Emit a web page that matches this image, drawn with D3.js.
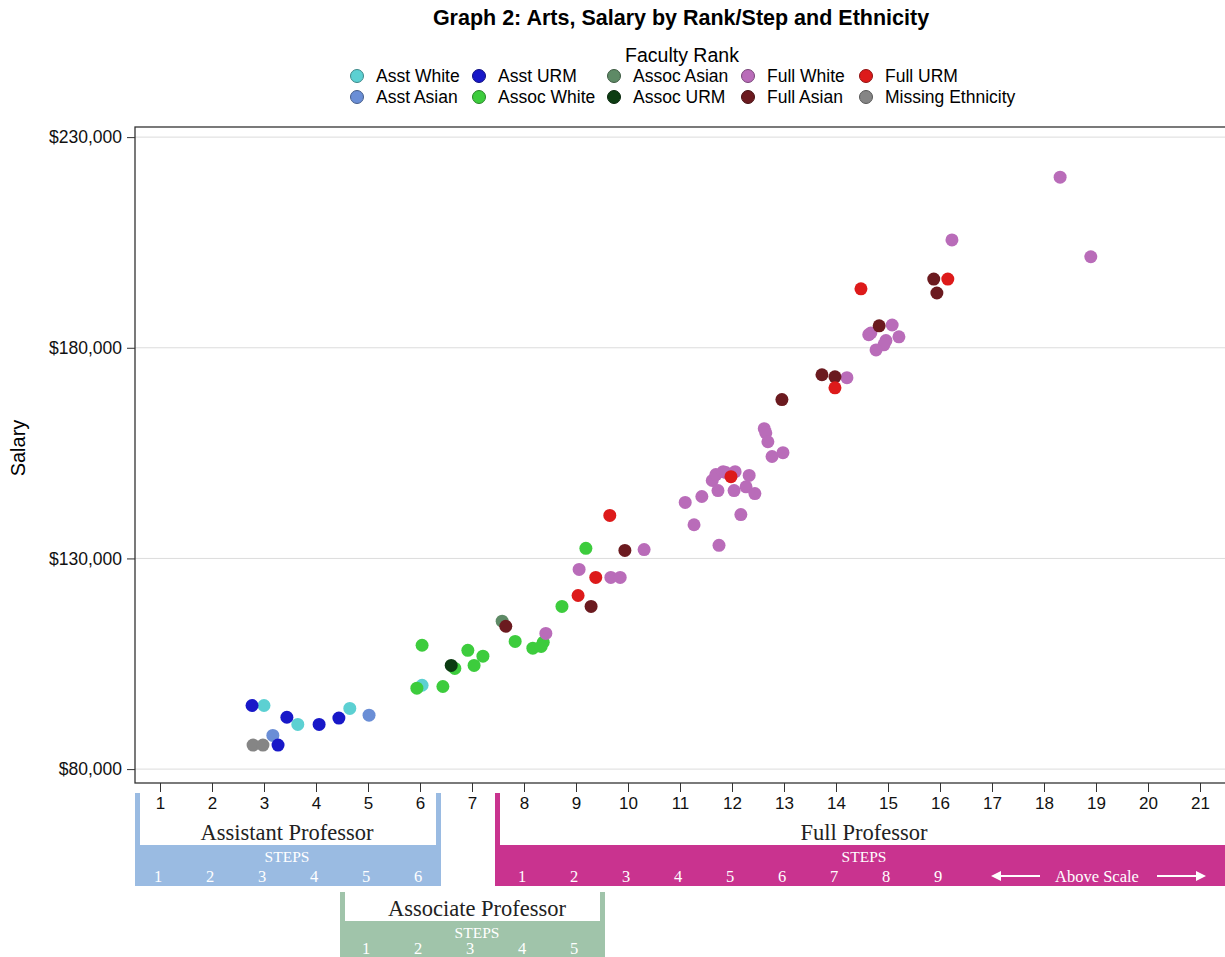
<!DOCTYPE html>
<html>
<head>
<meta charset="utf-8">
<script src="https://cdn.jsdelivr.net/npm/d3@7"></script>
<style>
  body { margin: 0; background: #fff; }
  svg { display: block; font-family: "Liberation Sans", Arial, sans-serif; }
</style>
</head>
<body>
<svg id="chart" width="1225" height="957"></svg>
<script>
// data: [step, salary] pairs per group
const asstWhite = [[3.0, 95100], [3.65, 90600], [4.65, 94400], [6.04, 99900]];
const asstAsian = [[3.17, 88000], [5.02, 92800]];
const asstURM = [[2.77, 95100], [3.44, 92300], [4.06, 90600], [4.44, 92100], [3.27, 85700]];
const missingEth = [[2.79, 85700], [2.98, 85700]];
const assocWhite = [[6.04, 109400], [6.92, 108200], [7.21, 106800], [7.04, 104600], [6.67, 103900],
  [5.94, 99200], [6.44, 99600], [7.83, 110300], [8.17, 108700], [8.37, 110100], [8.33, 109100],
  [8.73, 118600], [9.19, 132400]];
const assocAsian = [[7.58, 115100]];
const assocURM = [[6.6, 104600]];
const fullWhite = [[8.42, 112200], [9.06, 127400], [9.67, 125500], [9.85, 125500], [10.31, 132100],
  [11.1, 143300], [11.27, 138000], [11.42, 144700], [11.75, 133100], [12.17, 140400],
  [11.62, 148500], [11.69, 149900], [11.83, 150600], [11.88, 150400], [12.06, 150600], [12.33, 149700],
  [11.73, 146100], [12.04, 146100], [12.27, 147000], [12.44, 145400],
  [12.62, 160800], [12.65, 159800], [12.69, 157700], [12.77, 154200], [12.98, 155100],
  [14.21, 172900], [15.08, 185400], [14.63, 183100], [14.67, 183500], [15.21, 182600],
  [14.96, 181700], [14.92, 180700], [14.77, 179500],
  [16.23, 205600], [18.31, 220500], [18.9, 201600]];
const fullAsian = [[7.65, 113900], [9.29, 118600], [9.94, 131900], [12.96, 167700], [13.73, 173600],
  [13.98, 173100], [14.83, 185200], [15.88, 196300], [15.94, 193000]];
const fullURM = [[9.65, 140200], [9.38, 125500], [9.04, 121200], [11.98, 149400], [13.98, 170500],
  [14.48, 194000], [16.15, 196300]];

const groups = [
  { name: "Asst White", pts: asstWhite, color: "#5cd0d2" },
  { name: "Asst Asian", pts: asstAsian, color: "#6a8ed6" },
  { name: "Asst URM", pts: asstURM, color: "#1818c8" },
  { name: "Missing Ethnicity", pts: missingEth, color: "#858585" },
  { name: "Assoc White", pts: assocWhite, color: "#3dcc3d" },
  { name: "Assoc Asian", pts: assocAsian, color: "#5e8a66" },
  { name: "Assoc URM", pts: assocURM, color: "#0c3c12" },
  { name: "Full White", pts: fullWhite, color: "#b96cb9" },
  { name: "Full Asian", pts: fullAsian, color: "#6b1a1f" },
  { name: "Full URM", pts: fullURM, color: "#dd1a1a" }
];

const legendRows = [
  ["Asst White", "Asst URM", "Assoc Asian", "Full White", "Full URM"],
  ["Asst Asian", "Assoc White", "Assoc URM", "Full Asian", "Missing Ethnicity"]
];
const legendColX = [357, 479, 614, 748, 866];

const yTicks = [80000, 130000, 180000, 230000];
const xTicks = d3.range(1, 22);

const svg = d3.select("#chart");
const plotLeft = 135, plotTop = 127, plotRight = 1225, plotBottom = 783;

const x = d3.scaleLinear().domain([0.5, 21.5]).range([134, 1226]);
const y = d3.scaleLinear().domain([76700, 232400]).range([plotBottom, plotTop]);

// title
svg.append("text")
  .attr("x", 681).attr("y", 25)
  .attr("text-anchor", "middle")
  .style("font-size", "21.5px").style("font-weight", "bold")
  .text("Graph 2: Arts, Salary by Rank/Step and Ethnicity");

// legend
svg.append("text")
  .attr("x", 682).attr("y", 62)
  .attr("text-anchor", "middle")
  .style("font-size", "19.5px")
  .text("Faculty Rank");

const colorOf = {};
groups.forEach(g => colorOf[g.name] = g.color);

legendRows.forEach((row, ri) => {
  row.forEach((name, ci) => {
    const lg = svg.append("g").attr("transform", "translate(" + legendColX[ci] + "," + (76 + ri * 21) + ")");
    lg.append("circle").attr("r", 6.5)
      .attr("fill", colorOf[name])
      .attr("stroke", d3.color(colorOf[name]).darker(1.2))
      .attr("stroke-width", 1);
    lg.append("text").attr("x", 19).attr("y", 6)
      .style("font-size", "17.5px")
      .text(name);
  });
});

// gridlines
svg.append("g").selectAll("line")
  .data(yTicks)
  .join("line")
  .attr("x1", plotLeft).attr("x2", plotRight)
  .attr("y1", d => y(d)).attr("y2", d => y(d))
  .attr("stroke", "#dcdcdc").attr("stroke-width", 1);

// y axis
const yAxis = svg.append("g")
  .attr("transform", "translate(" + plotLeft + ",0)")
  .call(d3.axisLeft(y).tickValues(yTicks).tickSize(8).tickPadding(5)
    .tickFormat(d => "$" + d3.format(",")(d)));
yAxis.select(".domain").remove();
yAxis.selectAll("text").style("font-size", "17.5px").attr("fill", "#111")
  .style("font-family", "'Liberation Sans', Arial, sans-serif");
yAxis.selectAll("line").attr("stroke", "#333");

svg.append("text")
  .attr("transform", "translate(25,448) rotate(-90)")
  .attr("text-anchor", "middle")
  .style("font-size", "20px")
  .text("Salary");

// x axis
const xAxis = svg.append("g")
  .attr("transform", "translate(0," + plotBottom + ")")
  .call(d3.axisBottom(x).tickValues(xTicks).tickSize(9).tickPadding(5).tickFormat(d3.format("d")));
xAxis.select(".domain").remove();
xAxis.selectAll("text").style("font-size", "17px").attr("fill", "#111")
  .style("font-family", "'Liberation Sans', Arial, sans-serif");
xAxis.selectAll("line").attr("stroke", "#333");

// frame
svg.append("rect")
  .attr("x", plotLeft).attr("y", plotTop)
  .attr("width", plotRight - plotLeft + 2).attr("height", plotBottom - plotTop)
  .attr("fill", "none").attr("stroke", "#333").attr("stroke-width", 1.3);

// points
groups.forEach(g => {
  svg.append("g").selectAll("circle")
    .data(g.pts)
    .join("circle")
    .attr("cx", d => x(d[0]))
    .attr("cy", d => y(d[1]))
    .attr("r", 6.5)
    .attr("fill", g.color);
});

// rank brackets below the axis
function bracket(opts) {
  const g = svg.append("g");
  const x0 = opts.x0, x1 = opts.x1, yTop = opts.yTop, yBand = opts.yBand, yEnd = opts.yEnd;
  g.append("rect").attr("x", x0).attr("y", yTop).attr("width", 5).attr("height", yBand - yTop).attr("fill", opts.color);
  if (opts.rightBar)
    g.append("rect").attr("x", x1 - 5).attr("y", yTop).attr("width", 5).attr("height", yBand - yTop).attr("fill", opts.color);
  g.append("rect").attr("x", x0).attr("y", yBand).attr("width", x1 - x0).attr("height", yEnd - yBand).attr("fill", opts.color);
  g.append("text")
    .attr("x", opts.labelX).attr("y", yBand - 5)
    .attr("text-anchor", "middle")
    .style("font-family", "'Liberation Serif', 'Times New Roman', serif")
    .style("font-size", "22.5px").attr("fill", "#222")
    .text(opts.label);
  g.append("text")
    .attr("x", opts.labelX).attr("y", yBand + 17)
    .attr("text-anchor", "middle")
    .style("font-family", "'Liberation Serif', 'Times New Roman', serif")
    .style("font-size", "15.5px").attr("fill", "#fff")
    .text("STEPS");
  g.selectAll("text.step")
    .data(opts.steps)
    .join("text")
    .attr("class", "step")
    .attr("x", d => x(d + opts.offset) - 2)
    .attr("y", opts.stepY)
    .attr("text-anchor", "middle")
    .style("font-family", "'Liberation Serif', 'Times New Roman', serif")
    .style("font-size", "16.5px").attr("fill", "#fff")
    .text(d => d);
  return g;
}

bracket({ x0: 135, x1: 441, yTop: 793, yBand: 845, yEnd: 886, color: "#9abbe2", rightBar: true,
  label: "Assistant Professor", labelX: 287, steps: [1, 2, 3, 4, 5, 6], offset: 0, stepY: 882 });

const fullG = bracket({ x0: 495, x1: 1225, yTop: 793, yBand: 845, yEnd: 886, color: "#c9338f", rightBar: false,
  label: "Full Professor", labelX: 864, steps: [1, 2, 3, 4, 5, 6, 7, 8, 9], offset: 7, stepY: 882 });

// "Above Scale" with arrows
fullG.append("text")
  .attr("x", 1097).attr("y", 882)
  .attr("text-anchor", "middle")
  .style("font-family", "'Liberation Serif', 'Times New Roman', serif")
  .style("font-size", "16.5px").attr("fill", "#fff")
  .text("Above Scale");
[[1040, 991], [1157, 1206]].forEach(a => {
  const dir = Math.sign(a[1] - a[0]);
  fullG.append("line")
    .attr("x1", a[0]).attr("x2", a[1] - dir * 6).attr("y1", 876).attr("y2", 876)
    .attr("stroke", "#fff").attr("stroke-width", 2.2);
  fullG.append("path")
    .attr("d", "M" + a[1] + ",876 L" + (a[1] - dir * 10) + ",871 L" + (a[1] - dir * 10) + ",881 Z")
    .attr("fill", "#fff");
});

bracket({ x0: 340, x1: 605, yTop: 892, yBand: 921, yEnd: 957, color: "#a0c4aa", rightBar: true,
  label: "Associate Professor", labelX: 477, steps: [1, 2, 3, 4, 5], offset: 4, stepY: 954 });
</script>
</body>
</html>
